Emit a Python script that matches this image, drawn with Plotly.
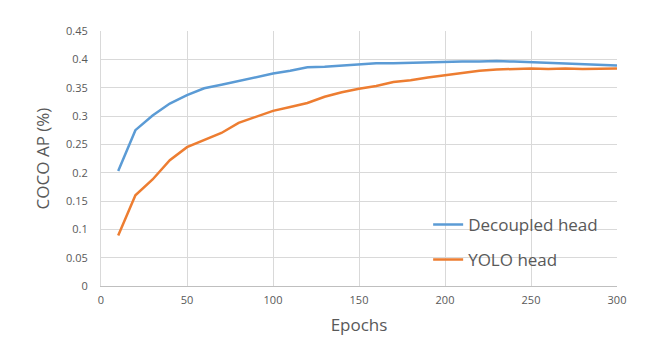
import plotly.graph_objects as go

epochs = [10, 20, 30, 40, 50, 60, 70, 80, 90, 100, 110, 120, 130, 140, 150,
          160, 170, 180, 190, 200, 210, 220, 230, 240, 250, 260, 270, 280, 290, 300]
decoupled = [0.203, 0.275, 0.301, 0.322, 0.337, 0.349, 0.355, 0.362, 0.369, 0.375,
             0.380, 0.386, 0.387, 0.389, 0.391, 0.393, 0.393, 0.394, 0.394, 0.396,
             0.396, 0.396, 0.397, 0.396, 0.395, 0.394, 0.393, 0.392, 0.390, 0.389]
yolo = [0.089, 0.160, 0.188, 0.222, 0.245, 0.258, 0.270, 0.288, 0.299, 0.309,
        0.316, 0.323, 0.334, 0.342, 0.348, 0.353, 0.360, 0.363, 0.368, 0.372,
        0.377, 0.380, 0.382, 0.383, 0.384, 0.383, 0.384, 0.383, 0.384, 0.384]

x_ticks = [0, 50, 100, 150, 200, 250, 300]
y_ticks = [0, 0.05, 0.1, 0.15, 0.2, 0.25, 0.3, 0.35, 0.4, 0.45]
y_labels = ["0", "0.05", "0.1", "0.15", "0.2", "0.25", "0.3", "0.35", "0.4", "0.45"]

FONT = "Open Sans"
GRAY = "#595959"

fig = go.Figure()
fig.add_trace(go.Scatter(x=epochs, y=decoupled, mode="lines", name="Decoupled head",
                         legendgroup="a", line=dict(color="#5B9BD5", width=2.5)))
fig.add_trace(go.Scatter(x=epochs, y=yolo, mode="lines", name="YOLO head",
                         legendgroup="b", line=dict(color="#ED7D31", width=2.5)))

fig.update_layout(
    width=670, height=358,
    margin=dict(l=101, r=53, t=31, b=72),
    paper_bgcolor="white", plot_bgcolor="white",
    font=dict(family=FONT, color=GRAY),
    legend=dict(x=0.634, y=0.31, xanchor="left", yanchor="top",
                font=dict(size=17, color=GRAY, family=FONT),
                bgcolor="rgba(0,0,0,0)", tracegroupgap=10, traceorder="grouped"),
    xaxis=dict(range=[0, 300], tickvals=x_ticks, showgrid=True, gridcolor="#d9d9d9",
               gridwidth=1, showline=True, linecolor="#bfbfbf", linewidth=1,
               zeroline=False, tickfont=dict(size=11, color=GRAY),
               title=dict(text="Epochs", font=dict(size=17, color=GRAY), standoff=12),
               ticks="", ticklabelstandoff=4),
    yaxis=dict(range=[0, 0.45], tickvals=y_ticks, ticktext=y_labels, showgrid=True,
               gridcolor="#d9d9d9", gridwidth=1, showline=True, linecolor="#d9d9d9",
               zeroline=False, tickfont=dict(size=11, color=GRAY),
               title=dict(text="COCO AP (%)", font=dict(size=17, color=GRAY), standoff=12),
               ticks="", ticklabelstandoff=10),
)

fig.write_html("out.html")
